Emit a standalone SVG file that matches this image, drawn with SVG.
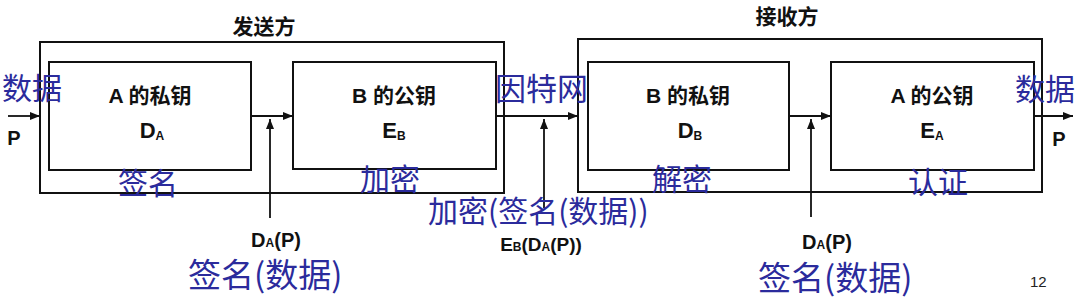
<svg xmlns="http://www.w3.org/2000/svg" width="1080" height="302" viewBox="0 0 1080 302">
<defs>
<marker id="ah" viewBox="0 0 10 8" refX="10" refY="4" markerWidth="10" markerHeight="8" markerUnits="userSpaceOnUse" orient="auto">
<path d="M0,0 L10,4 L0,8 Z" fill="#111"/>
</marker>
</defs>
<style>
.box{fill:none;stroke:#111;stroke-width:2}
.ln{fill:none;stroke:#111;stroke-width:1.8}
.k{font-family:"Liberation Sans","Noto Sans CJK SC",sans-serif;font-weight:bold;fill:#111;text-anchor:middle}
.b{font-family:"Noto Sans CJK SC","Noto Sans CJK TC",sans-serif;fill:#2b2b9c}
.sub{font-size:12px}
</style>
<rect width="1080" height="302" fill="#fff"/>
<g id="sender">
<rect class="box" x="40" y="42" width="464" height="151"/>
<text class="k" x="264" y="34" font-size="21">发送方</text>
</g>
<g id="receiver">
<rect class="box" x="578" y="39" width="464" height="153"/>
<text class="k" x="787" y="24" font-size="21">接收方</text>
</g>
<g id="nodeA_priv">
<rect class="box" x="49" y="62" width="202" height="108"/>
<text class="k" x="150" y="103" font-size="21">A 的私钥</text>
<text class="k" x="152" y="138" font-size="22">D<tspan class="sub" dy="2">A</tspan></text>
</g>
<g id="nodeB_pub">
<rect class="box" x="293" y="62" width="203" height="107"/>
<text class="k" x="394" y="103" font-size="21">B 的公钥</text>
<text class="k" x="394" y="138" font-size="22">E<tspan class="sub" dy="2">B</tspan></text>
</g>
<g id="nodeB_priv">
<rect class="box" x="588" y="62" width="201" height="108"/>
<text class="k" x="688" y="103" font-size="21">B 的私钥</text>
<text class="k" x="690" y="138" font-size="22">D<tspan class="sub" dy="2">B</tspan></text>
</g>
<g id="nodeA_pub">
<rect class="box" x="831" y="62" width="203" height="108"/>
<text class="k" x="932" y="103" font-size="21">A 的公钥</text>
<text class="k" x="932" y="138" font-size="22">E<tspan class="sub" dy="2">A</tspan></text>
</g>
<g id="connectors">
<line class="ln" x1="8" y1="116" x2="40" y2="116" marker-end="url(#ah)"/>
<line class="ln" x1="251" y1="116" x2="293" y2="116" marker-end="url(#ah)"/>
<line class="ln" x1="270" y1="218" x2="270" y2="119" marker-end="url(#ah)"/>
<line class="ln" x1="496" y1="116" x2="578" y2="116" marker-end="url(#ah)"/>
<line class="ln" x1="544" y1="208" x2="544" y2="119" marker-end="url(#ah)"/>
<line class="ln" x1="789" y1="116" x2="831" y2="116" marker-end="url(#ah)"/>
<line class="ln" x1="811" y1="217" x2="811" y2="119" marker-end="url(#ah)"/>
<line class="ln" x1="1034" y1="116" x2="1073" y2="116" marker-end="url(#ah)"/>
</g>
<g id="labels">
<text class="k" x="14" y="145" font-size="20">P</text>
<text class="k" x="1059" y="146" font-size="20">P</text>
<text class="k" x="276" y="247" font-size="20">D<tspan class="sub">A</tspan>(P)</text>
<text class="k" x="541" y="251" font-size="19">E<tspan class="sub">B</tspan>(D<tspan class="sub">A</tspan>(P))</text>
<text class="k" x="827" y="249" font-size="20">D<tspan class="sub">A</tspan>(P)</text>
<text class="b" x="2" y="99" font-size="30">数据</text>
<text class="b" x="1015" y="100" font-size="30">数据</text>
<text class="b" x="495" y="100" font-size="31">因特网</text>
<text class="b" x="118" y="194" font-size="30">签名</text>
<text class="b" x="360" y="190" font-size="30">加密</text>
<text class="b" x="652" y="190" font-size="30">解密</text>
<text class="b" x="908" y="193" font-size="30">认证</text>
<text class="b" x="428" y="222" font-size="30">加密(签名(数据))</text>
<text class="b" x="188" y="287" font-size="33">签名(数据)</text>
<text class="b" x="758" y="290" font-size="33">签名(数据)</text>
<text x="1030" y="287" font-size="15" font-family="Liberation Sans,sans-serif" fill="#222">12</text>
</g>
</svg>
